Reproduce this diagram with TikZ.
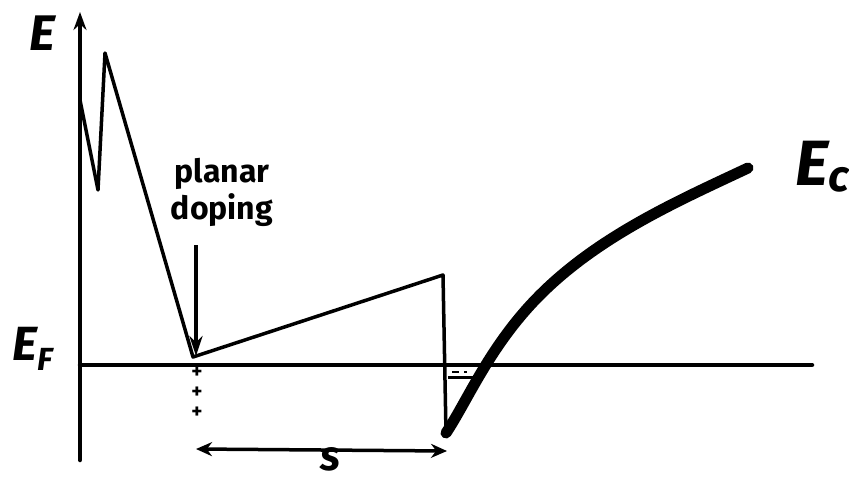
\documentclass[tikz,border=0pt]{standalone}
\usepackage{fontspec}
\setmainfont{Fira Sans}
\usetikzlibrary{arrows.meta}
\begin{document}
\begin{tikzpicture}[x=1pt,y=-1pt,
  thinln/.style={line width=3.5pt,line cap=round,line join=round},
  axisln/.style={line width=4.5pt,line cap=round},
  thickln/.style={line width=11pt,line cap=round},
  lbl/.style={inner sep=0pt,font=\itshape}]
\useasboundingbox (0,0) rectangle (849,482);
% coordinates
\coordinate (ybot) at (80,460);
\coordinate (ytop) at (80,12);
\coordinate (fl) at (80,365);
\coordinate (fr) at (812,365);
\coordinate (p0) at (80,100);
\coordinate (p1) at (98,190);
\coordinate (p2) at (105,53);
\coordinate (p3) at (193,357);
\coordinate (p4) at (443,275);
\coordinate (p5) at (446,433);
\coordinate (c1) at (540,295);
\coordinate (c2) at (748,168);
% axes
\draw[axisln,-{Stealth[length=18pt,width=13pt]}] (ybot) -- (ytop);
\draw[axisln] (fl) -- (fr);
% band profile
\draw[thinln] (p0) -- (p1) -- (p2) -- (p3) -- (p4) -- (p5);
\draw[thickln] (p5) .. controls (468,400) and (490,345) .. (c1)
  .. controls (600,235) and (680,200) .. (c2);
% electron gas
\coordinate (g1) at (448,377);
\coordinate (g2) at (478,377);
\draw[line width=3pt] (g1) -- (g2);
\draw[line width=2.5pt] (452,372) -- (459,372) (464,372) -- (467,372);
% labels
\node[lbl,font=\bfseries\itshape\fontsize{50}{50}\selectfont] (E) at (42,33) {E};
\node[lbl,font=\bfseries\itshape\fontsize{48}{48}\selectfont,anchor=base west] (EF) at (12,360) {E\raisebox{-10pt}{\fontsize{32}{32}\selectfont F}};
\node[lbl,font=\bfseries\itshape\fontsize{64}{64}\selectfont,anchor=base west] (Ec) at (795,185) {E\raisebox{-6pt}{\fontsize{44}{44}\selectfont c}};
\node[inner sep=0pt,align=center,font=\bfseries\fontsize{32}{37}\selectfont] (pd) at (222,192) {planar\\doping};
\coordinate (a1) at (196,245);
\coordinate (a2) at (196,356);
\draw[line width=3.5pt,-{Stealth[length=20pt,width=13pt]}] (a1) -- (a2);
% plus signs (donor charges)
\node[inner sep=0pt,align=center,font=\bfseries\fontsize{21}{20}\selectfont,anchor=north] (plus) at (197,367) {+\\+\\+};
% s arrow
\coordinate (s1) at (196,449);
\coordinate (s2) at (447,451);
\draw[line width=3.5pt,{Stealth[length=16pt,width=14pt]}-{Stealth[length=16pt,width=14pt]}] (s1) -- (s2);
\node[lbl,font=\bfseries\itshape\fontsize{42}{42}\selectfont,anchor=base] (s) at (330,470) {s};
\end{tikzpicture}
\end{document}
